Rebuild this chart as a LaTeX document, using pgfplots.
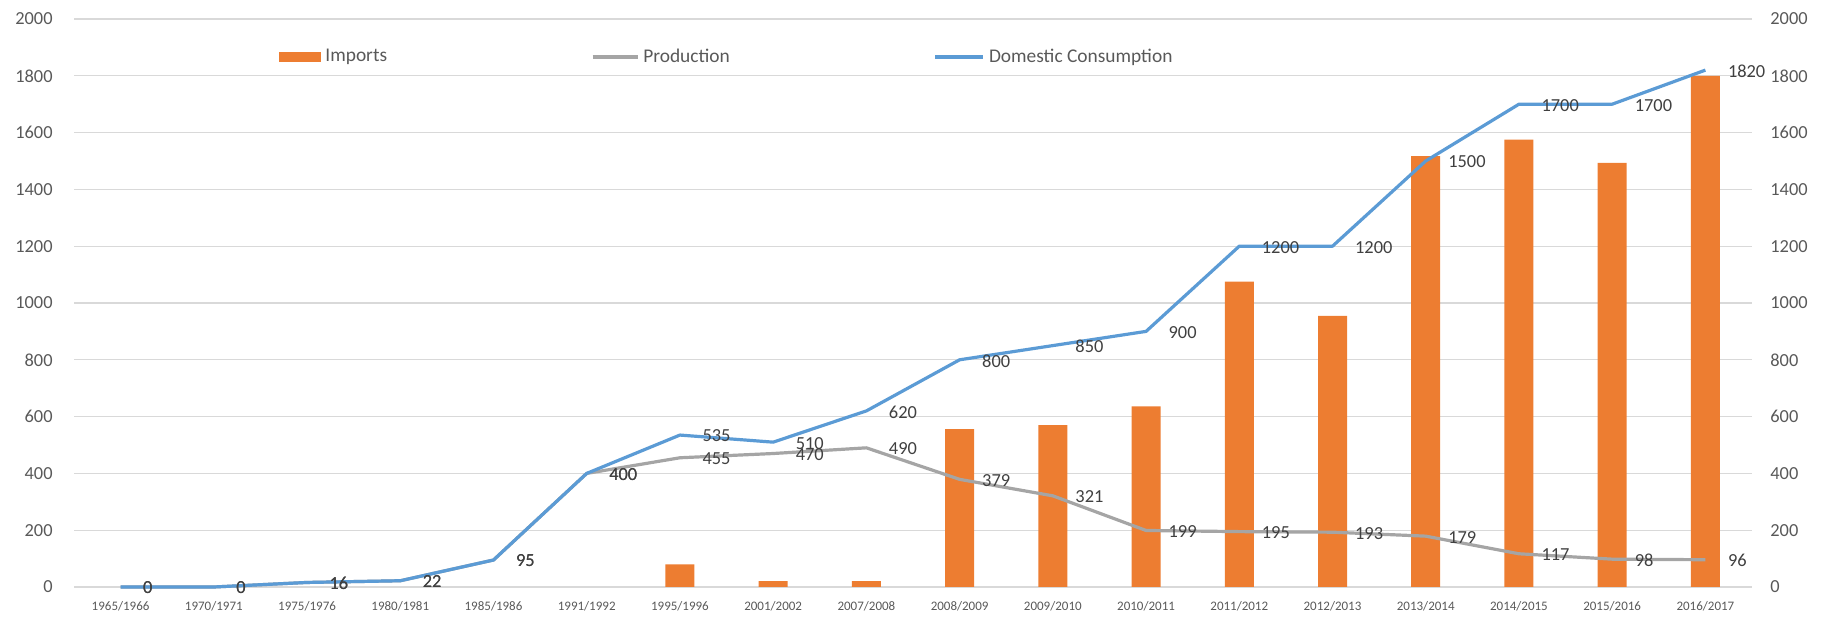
\documentclass[border=0pt]{standalone}
\usepackage{fontspec}
\setmainfont{Carlito}
\usepackage{pgfplots}
\pgfplotsset{compat=1.18}
\definecolor{cImp}{HTML}{ED7D31}
\definecolor{cProd}{HTML}{A5A5A5}
\definecolor{cCons}{HTML}{5B9BD5}
\definecolor{cGrid}{HTML}{D9D9D9}
\definecolor{cTick}{HTML}{595959}
\definecolor{cLab}{HTML}{404040}
\begin{document}
\begin{tikzpicture}
\path[use as bounding box] (-37pt,-16.5pt) rectangle (876pt,293.5pt);
\begin{axis}[
  scale only axis, width=839pt, height=284pt,
  at={(0,0)}, anchor=south west,
  xmin=-0.5, xmax=17.5, ymin=0, ymax=2000,
  xtick={0,...,17},
  xticklabels={1965/1966,1970/1971,1975/1976,1980/1981,1985/1986,1991/1992,1995/1996,2001/2002,2007/2008,2008/2009,2009/2010,2010/2011,2011/2012,2012/2013,2013/2014,2014/2015,2015/2016,2016/2017},
  ytick={0,200,...,2000},
  /pgf/number format/assume math mode=true,
  /pgf/number format/1000 sep={},
  axis line style={draw=none},
  major tick length=0pt,
  ymajorgrids, grid style={cGrid, line width=0.6pt},
  xticklabel style={font=\fontsize{6.5}{7}\selectfont, text=cTick, inner sep=0pt, yshift=-7pt},
  yticklabel style={font=\fontsize{9.2}{10}\selectfont, text=cTick, inner sep=0pt, xshift=-10.5pt},
  clip=false,
  legend columns=3,
  legend style={at={(rel axis cs:0.1222,0.933)}, anchor=west, draw=none, fill=none, inner sep=0pt,
    font=\fontsize{9.7}{11}\selectfont, text=cTick,
    /tikz/every even column/.append style={column sep=100pt}},
  nodes near coords style={font=\fontsize{9.2}{10}\selectfont, text=cLab, anchor=west, inner sep=0pt, xshift=10.5pt, yshift=-0.5pt},
]
\addplot[ybar, bar width=14.5pt, fill=cImp, draw=none,
  legend image code/.code={\fill[cImp] (0pt,-2.5pt) rectangle (21pt,2.5pt);}]
  coordinates {(6,80) (7,21) (8,21) (9,556) (10,570) (11,636) (12,1075) (13,955) (14,1517) (15,1575) (16,1493) (17,1800)};
\addlegendentry{Imports}
\addplot[cProd, line width=1.6pt, line join=round, nodes near coords,
  legend image code/.code={\draw[cProd, line width=1.6pt] (0pt,0pt) -- (22.5pt,0pt);}]
  coordinates {(0,0) (1,0) (2,16) (3,22) (4,95) (5,400) (6,455) (7,470) (8,490) (9,379) (10,321) (11,199) (12,195) (13,193) (14,179) (15,117) (16,98) (17,96)};
\addlegendentry{Production}
\addplot[cCons, line width=1.6pt, line join=round, nodes near coords,
  legend image code/.code={\draw[cCons, line width=1.6pt] (0pt,0pt) -- (24pt,0pt);}]
  coordinates {(0,0) (1,0) (2,16) (3,22) (4,95) (5,400) (6,535) (7,510) (8,620) (9,800) (10,850) (11,900) (12,1200) (13,1200) (14,1500) (15,1700) (16,1700) (17,1820)};
\addlegendentry{Domestic Consumption}
\end{axis}
\begin{axis}[
  scale only axis, width=839pt, height=284pt,
  at={(0,0)}, anchor=south west,
  xmin=-0.5, xmax=17.5, ymin=0, ymax=2000,
  xtick=\empty,
  ytick={0,200,...,2000},
  yticklabel pos=right,
  /pgf/number format/assume math mode=true,
  /pgf/number format/1000 sep={},
  axis line style={draw=none},
  major tick length=0pt,
  yticklabel style={font=\fontsize{9.2}{10}\selectfont, text=cTick, inner sep=0pt, xshift=9pt},
]
\end{axis}
\end{tikzpicture}
\end{document}
